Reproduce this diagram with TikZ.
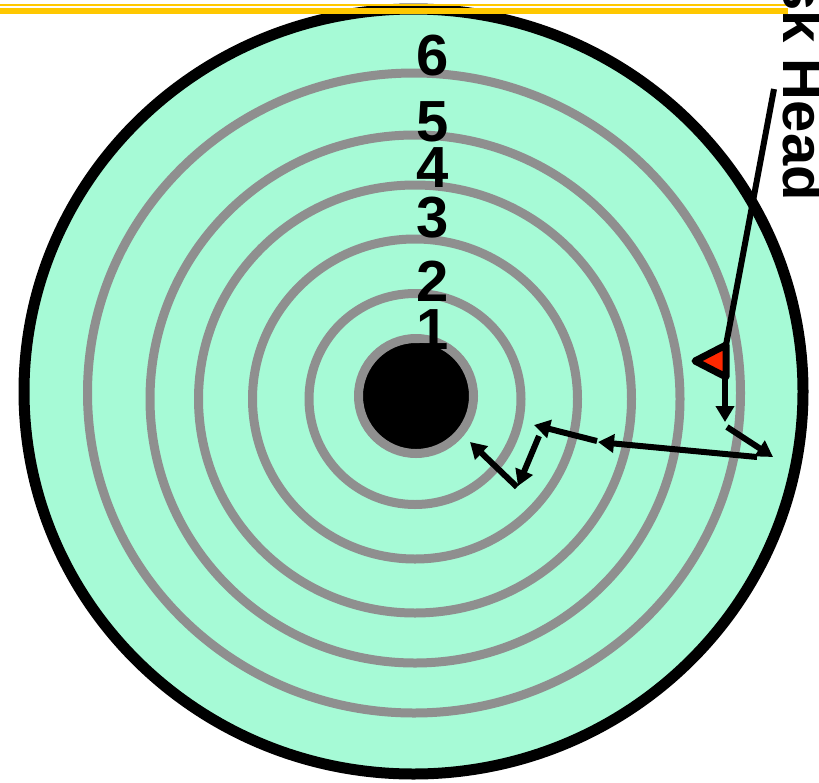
\documentclass[tikz,border=0pt]{standalone}
\usepackage{fontspec}
\newfontfamily\headfont{Liberation Sans}
\definecolor{DiskMint}  {RGB}{166,250,214}
\definecolor{TrackGray} {RGB}{143,143,143}
\definecolor{HeadRed}   {RGB}{255,40,0}
\definecolor{RuleGold}  {RGB}{255,200,0}
\usetikzlibrary{arrows.meta}

\begin{document}
\begin{tikzpicture}[x=1pt,y=-1pt,
  track/.style={draw=TrackGray,line width=9pt},
  num/.style={font=\headfont\bfseries\fontsize{58}{60}\selectfont,
              inner sep=0pt},
  seek/.style={-{Triangle[length=16pt,width=18pt]},line width=6pt}]
  \useasboundingbox (0,0) rectangle (819,782);
  \filldraw[fill=DiskMint,draw=black,line width=11pt]
       (413.5,391.5) ellipse [x radius=389.5,y radius=382.5];
  \foreach \rx/\ry in {106/105.5,162.5/160,216.5/214,265/264}
    \draw[track] (415,399) ellipse [x radius=\rx,y radius=\ry];
  \draw[track] (414,393) ellipse [x radius=326.5,y radius=320];
  \node[circle,fill=black,track,minimum size=115pt,inner sep=0pt]
       (hub) at (416,396) {};
  \foreach \n/\y in {6/56,5/122,4/168,3/218,2/281,1/330}
    \node[num] (t\n) at (433,\y) {\n};
  \coordinate (tip) at (695,361);
  \coordinate (arm) at (726,345);
  \coordinate (heel) at (726,377);
  \filldraw[fill=HeadRed,draw=black,line width=7pt,line join=round]
       (tip)--(arm)--(heel)--cycle;
  \foreach \i/\sx/\sy/\ex/\ey in {1/725/379/725/422,2/727/427/773/457,
      3/757/457/598/442,4/597/441/534/425,5/539/436/518/486,
      6/517/487/470/442}{
    \coordinate (s\i) at (\sx,\sy);
    \coordinate (e\i) at (\ex,\ey);
    \draw[seek] (s\i)--(e\i);
  }
  \coordinate (rA) at (0,5);    \coordinate (rB) at (790,5);
  \coordinate (rC) at (0,11);   \coordinate (rD) at (788,11);
  \draw[RuleGold,line width=2.5pt] (rA)--(rB);
  \draw[RuleGold,line width=6pt] (rC)--(rD);
  \node[num,rotate=-90,anchor=base east] (lbl) at (783,201) {Disk Head};
  \coordinate (lead) at (774,89);
  \draw[line width=6pt] (lead)--(arm);
\end{tikzpicture}
\end{document}
